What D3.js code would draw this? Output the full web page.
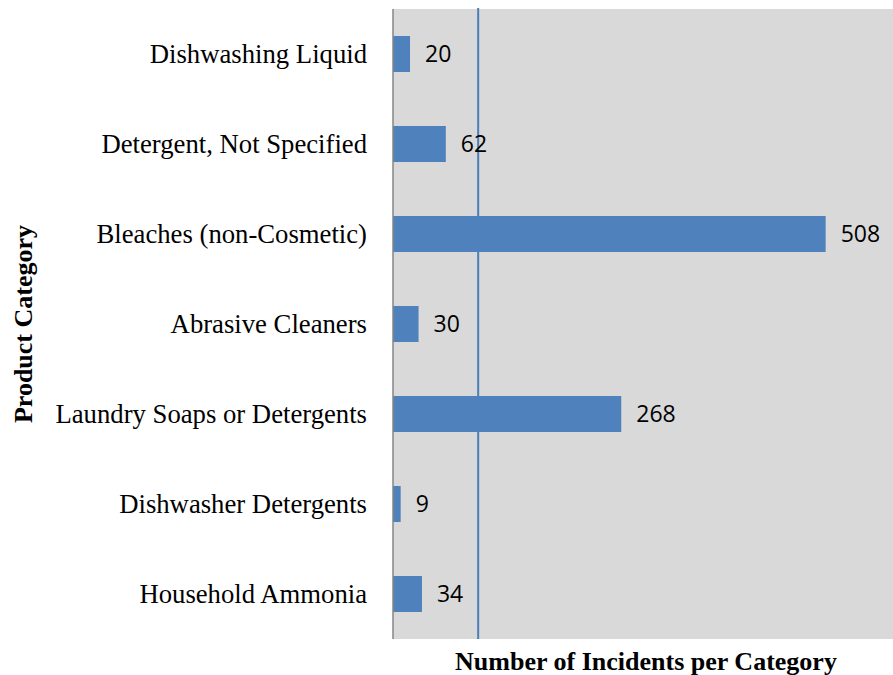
<!DOCTYPE html>
<html>
<head>
<meta charset="utf-8">
<script src="https://cdn.jsdelivr.net/npm/d3@7"></script>
<style>
  body { margin: 0; background: #fff; }
  svg { display: block; }
</style>
</head>
<body>
<div id="chart"></div>
<script>
(function() {
    var width = 893, height = 675;

    // data, top to bottom as in the chart
    var categories = ["Dishwashing Liquid", "Detergent, Not Specified", "Bleaches (non-Cosmetic)",
                      "Abrasive Cleaners", "Laundry Soaps or Detergents", "Dishwasher Detergents",
                      "Household Ammonia"];
    var incidents = [20, 62, 508, 30, 268, 9, 34];
    var refValue = 100;   // vertical reference line
    var xTitle = "Number of Incidents per Category";
    var yTitle = "Product Category";

    var plot = {left: 393, top: 9, bottom: 639, right: 893};

    var svg = d3.select("#chart").append("svg")
                .attr("width", width)
                .attr("height", height);

    var x = d3.scaleLinear().domain([0, 600]).range([plot.left, 904]);
    var y = d3.scaleBand().domain(categories)
              .range([plot.top, plot.bottom])
              .paddingInner(0.6).paddingOuter(0.3);

    // plot background
    svg.append("rect")
       .attr("x", plot.left).attr("y", plot.top)
       .attr("width", plot.right - plot.left)
       .attr("height", plot.bottom - plot.top)
       .attr("fill", "#d9d9d9");

    // reference line
    svg.append("line")
       .attr("x1", x(refValue)).attr("x2", x(refValue))
       .attr("y1", plot.top - 1).attr("y2", plot.bottom)
       .attr("stroke", "#4a7ebb").attr("stroke-width", 2);

    var data = categories.map(function(c, i) { return {name: c, value: incidents[i]}; });

    svg.selectAll("rect.bar").data(data).enter().append("rect")
       .attr("class", "bar")
       .attr("x", x(0))
       .attr("y", function(d) { return y(d.name); })
       .attr("width", function(d) { return x(d.value) - x(0); })
       .attr("height", y.bandwidth())
       .attr("fill", "#4f81bd");

    // value labels
    svg.selectAll("text.val").data(data).enter().append("text")
       .attr("class", "val")
       .attr("x", function(d) { return x(d.value) + 15; })
       .attr("y", function(d) { return y(d.name) + y.bandwidth() / 2; })
       .attr("dy", "0.36em")
       .style("font-family", "'Open Sans', sans-serif")
       .style("font-size", "23px")
       .attr("fill", "#000")
       .text(function(d) { return d.value; });

    // y axis (category labels), no ticks
    var yAxis = svg.append("g")
       .attr("transform", "translate(" + plot.left + ",0)")
       .call(d3.axisLeft(y).tickSize(0).tickPadding(26));
    yAxis.select(".domain").remove();
    yAxis.selectAll("text")
       .style("font-family", "'Liberation Serif', 'Times New Roman', serif")
       .style("font-size", "26.7px")
       .attr("fill", "#000");

    svg.append("line")
       .attr("x1", plot.left).attr("x2", plot.left)
       .attr("y1", plot.top).attr("y2", plot.bottom)
       .attr("stroke", "#868686").attr("stroke-width", 1.5);

    // axis titles
    svg.append("text")
       .attr("x", 646).attr("y", 670)
       .attr("text-anchor", "middle")
       .style("font-family", "'Liberation Serif', 'Times New Roman', serif")
       .style("font-size", "26px").style("font-weight", "bold")
       .text(xTitle);

    svg.append("text")
       .attr("transform", "translate(32,324) rotate(-90)")
       .attr("text-anchor", "middle")
       .style("font-family", "'Liberation Serif', 'Times New Roman', serif")
       .style("font-size", "26px").style("font-weight", "bold")
       .text(yTitle);
})();
</script>
</body>
</html>
